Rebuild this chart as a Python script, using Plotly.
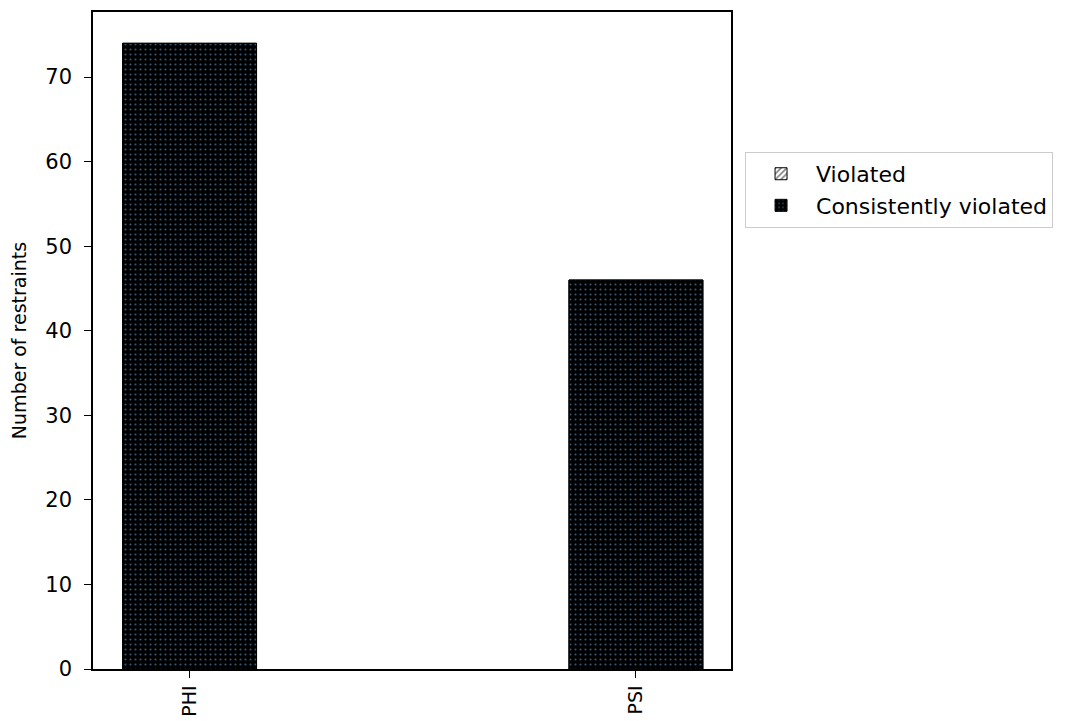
import plotly.graph_objects as go

# Restraint violation counts per dihedral type
categories = ["PHI", "PSI"]
violated = [74, 46]
consistently_violated = [74, 46]

font_family = "DejaVu Sans"

fig = go.Figure()

fig.add_trace(go.Bar(
    x=categories,
    y=violated,
    name="Violated",
    width=0.3,
    marker=dict(
        color="white",
        line=dict(color="black", width=1),
        pattern=dict(shape="/", fgcolor="black", bgcolor="white", size=5, solidity=0.4),
    ),
))

fig.add_trace(go.Bar(
    x=categories,
    y=consistently_violated,
    name="Consistently violated",
    width=0.3,
    marker=dict(
        color="black",
        line=dict(color="black", width=1),
        pattern=dict(shape=".", fgcolor="#6aaee6", bgcolor="black", size=5, solidity=0.15),
    ),
))

fig.update_layout(
    barmode="overlay",
    width=1082,
    height=721,
    margin=dict(l=93, r=351, t=12, b=52),
    paper_bgcolor="white",
    plot_bgcolor="white",
    font=dict(family=font_family, color="black", size=20),
    showlegend=True,
    legend=dict(
        x=1.022, y=0.787, xanchor="left", yanchor="top",
        bordercolor="#cccccc", borderwidth=1,
        font=dict(size=22, family=font_family),
        bgcolor="white",
        traceorder="normal",
        itemwidth=60,
    ),
    xaxis=dict(
        range=[-0.2164, 1.213],
        showline=True, linecolor="black", linewidth=1.5, mirror=True,
        ticks="outside", ticklen=7, tickwidth=1.2, tickcolor="black",
        ticklabelstandoff=0,
        tickangle=-90,
        tickfont=dict(size=19, family=font_family),
        showgrid=False,
        automargin=False,
    ),
    yaxis=dict(
        range=[0, 77.7],
        tickvals=[0, 10, 20, 30, 40, 50, 60, 70],
        showline=True, linecolor="black", linewidth=1.5, mirror=True,
        ticks="outside", ticklen=7, tickwidth=1.2, tickcolor="black",
        ticklabelstandoff=8,
        tickfont=dict(size=21, family=font_family),
        showgrid=False, zeroline=False,
        automargin=False,
        title=dict(text="Number of restraints", font=dict(size=19, family=font_family), standoff=14),
    ),
)

fig.write_html("out.html")
